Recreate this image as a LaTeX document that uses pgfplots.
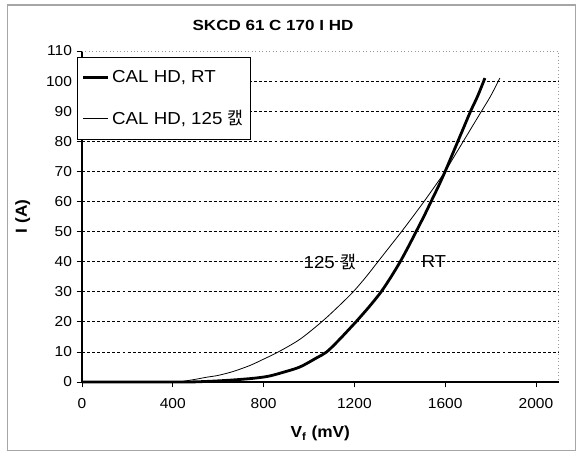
\documentclass[border=0pt]{standalone}
\usepackage{fontspec}
\setmainfont{Liberation Sans}[FakeStretch=1.08]
\newfontfamily\titlefont{Liberation Sans}[FakeStretch=1.16]
\newfontfamily\kr{Noto Sans CJK KR}
\usepackage{pgfplots}
\pgfplotsset{compat=1.18}
\begin{document}
\begin{tikzpicture}
\path[use as bounding box] (0pt,0pt) rectangle (432.75pt,341.25pt);
\draw[gray!70, line width=0.8pt] (5.5pt,3.5pt) rectangle (431.5pt,337.5pt);
\node[font=\titlefont\fontsize{11}{13}\selectfont\bfseries] at (204.75pt,322.5pt) {SKCD 61 C 170 I HD};
\begin{axis}[
  at={(61.5pt,54.75pt)}, anchor=south west,
  scale only axis, width=357.5pt, height=248.25pt,
  xmin=0, xmax=2100, ymin=0, ymax=110,
  axis lines=left, axis line style={-, black, line width=0.8pt},
  xtick={0,400,...,2000}, ytick={10,20,...,100},
  extra y ticks={0,110}, extra y tick style={grid=none},
  ymajorgrids, major grid style={black, line width=0.5pt, dash pattern=on 2.2pt off 1.6pt},
  tick align=outside, major tick length=4pt, tick style={black, line width=0.6pt},
  /pgf/number format/assume math mode=true,
  /pgf/number format/1000 sep={},
  tick label style={font=\fontsize{10.8}{12}\selectfont},
  xticklabel style={yshift=-5pt},
  xlabel={\textbf{V\textsubscript{f} (mV)}},
  ylabel={\textbf{I (A)}},
  label style={font=\fontsize{12}{14}\selectfont},
  xlabel style={yshift=-6pt},
  ylabel style={yshift=-3pt},
  legend style={at={(-0.0105,0.982)}, anchor=north west, draw=black, fill=white,
    font=\fontsize{13}{15}\selectfont, row sep=15pt, inner ysep=8pt, inner xsep=3pt,
    line width=0.6pt},
  legend cell align=left,
  legend image code/.code={\draw[#1] (0pt,0pt) -- (19pt,0pt);},
  clip=false,
]
\addplot[black, line width=2.1pt, smooth] coordinates {
(0,0) (440,0) (550,0.2) (650,0.6) (750,1.2) (820,1.9) (885,3.2) (960,5) (1033,8)
(1078,10) (1130,13.8) (1180,17.8) (1207,20) (1265,25) (1318,30) (1362,35) (1402,40)
(1438,45) (1472,50) (1506,55) (1538,60) (1570,65) (1600,70) (1628,75) (1656,80)
(1684,85) (1712,90) (1743,95) (1775,101)
};
\addlegendentry{CAL HD, RT}
\addplot[black, line width=0.6pt, smooth] coordinates {
(0,0) (400,0) (450,0.3) (500,0.9) (550,1.6) (600,2.2) (666,3.5) (740,5.5) (800,7.6)
(865,10) (960,14.2) (1056,20) (1128,25) (1195,30) (1252,35) (1304,40) (1356,45)
(1408,50) (1458,55) (1507,60) (1554,65) (1600,70) (1640,75) (1680,80) (1720,85)
(1760,90) (1800,95) (1841,101)
};
\addlegendentry{CAL HD, 125 {\kr 캜}}
\draw[gray!80, line width=0.6pt, dotted] (rel axis cs:0,1) -- (rel axis cs:1,1) -- (rel axis cs:1,0);
\node[font=\fontsize{13}{15}\selectfont] at (axis cs:1092,40) {125 {\kr 캜}};
\node[font=\fontsize{13}{15}\selectfont] at (axis cs:1550,40) {RT};
\end{axis}
\end{tikzpicture}
\end{document}
